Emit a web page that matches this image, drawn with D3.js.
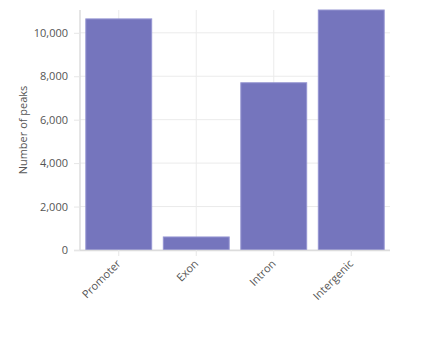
<!DOCTYPE html>
<html><head><meta charset="utf-8">
<script src="https://cdn.jsdelivr.net/npm/d3@7"></script>
<style>body{margin:0;background:#fff;} text{font-family:"Segoe UI","Open Sans","Noto Sans",sans-serif;}</style>
</head><body><svg id="c" width="440" height="340"></svg>
<script>
const categories = ["Promoter", "Exon", "Intron", "Intergenic"];
const peakCounts = [10640, 600, 7700, 11050];
const yTicks = [0, 2000, 4000, 6000, 8000, 10000];

const svg = d3.select("#c");
const m = {l: 80, r: 50, t: 10, b: 90};
const W = 440, H = 340;
const x = d3.scaleBand().domain(categories).range([m.l, W - m.r]).paddingInner(0.15).paddingOuter(0.075);
const y = d3.scaleLinear().domain([0, d3.max(peakCounts)]).range([H - m.b, m.t]);

// grid
const g = svg.append("g");
g.selectAll(".hg").data(yTicks).join("line")
  .attr("x1", m.l).attr("x2", W - m.r).attr("y1", d => y(d)).attr("y2", d => y(d))
  .attr("stroke", "#ebebeb").attr("stroke-width", 1);
g.selectAll(".vg").data(categories).join("line")
  .attr("x1", d => x(d) + x.bandwidth() / 2).attr("x2", d => x(d) + x.bandwidth() / 2)
  .attr("y1", m.t).attr("y2", H - m.b).attr("stroke", "#ebebeb");

// bars
svg.selectAll(".bar").data(categories).join("rect")
  .attr("x", d => x(d)).attr("width", x.bandwidth())
  .attr("y", (d, i) => y(peakCounts[i])).attr("height", (d, i) => y(0) - y(peakCounts[i]))
  .attr("fill", "#7575bd").attr("stroke", "#9595d2").attr("stroke-width", 1);

// axes lines
svg.append("line").attr("x1", m.l).attr("x2", m.l).attr("y1", m.t).attr("y2", H - m.b).attr("stroke", "#dcdcdc").attr("stroke-width", 1.5);
svg.append("line").attr("x1", m.l - 6).attr("x2", W - m.r).attr("y1", y(0) + 0.5).attr("y2", y(0) + 0.5).attr("stroke", "#dcdcdc").attr("stroke-width", 1.5);

// y axis
const ya = svg.append("g").attr("transform", `translate(${m.l},0)`)
  .call(d3.axisLeft(y).tickValues(yTicks).tickFormat(d3.format(",")).tickSize(6).tickPadding(6));
ya.select(".domain").remove();
ya.selectAll(".tick line").attr("stroke", "#e6e6e6");
ya.selectAll("text").attr("fill", "#555").attr("font-size", 11);

// x axis
const xa = svg.append("g").attr("transform", `translate(0,${y(0)})`)
  .call(d3.axisBottom(x).tickSize(6).tickPadding(4));
xa.select(".domain").remove();
xa.selectAll(".tick line").attr("stroke", "#e6e6e6");
xa.selectAll("text").attr("fill", "#555").attr("font-size", 11)
  .attr("text-anchor", "end").attr("dy", "0.35em")
  .attr("transform", "translate(0,6) rotate(-45)").attr("x", -4).attr("y", 4);

// y title
svg.append("text").attr("transform", `translate(27,${(m.t + y(0)) / 2}) rotate(-90)`)
  .attr("text-anchor", "middle").attr("fill", "#555").attr("font-size", 11).text("Number of peaks");
</script></body></html>
